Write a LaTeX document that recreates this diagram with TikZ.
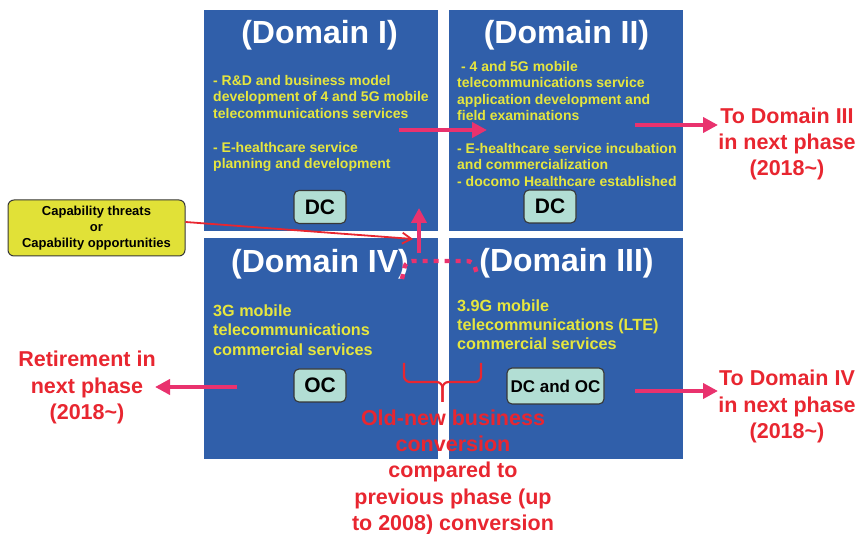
\documentclass[tikz,border=0pt]{standalone}
\usepackage{fontspec}
\setmainfont{Liberation Sans}
\usetikzlibrary{arrows.meta}

\definecolor{domblue}{RGB}{48,95,170}
\definecolor{txtyellow}{RGB}{230,230,62}
\definecolor{arrowpink}{RGB}{233,50,110}
\definecolor{labelred}{RGB}{232,38,48}
\definecolor{tagfill}{RGB}{178,222,212}
\definecolor{capfill}{RGB}{225,225,55}
\definecolor{edgegray}{RGB}{55,55,55}

\newcommand\setfs[2]{\fontsize{#1}{#2}\selectfont\bfseries}

\begin{document}
\begin{tikzpicture}[x=1pt,y=-1pt,
  domainbox/.style={fill=domblue, draw=none, inner sep=0pt, outer sep=0pt,
    anchor=north west, minimum width=234pt, minimum height=221pt},
  domtitle/.style={text=white, anchor=base, inner sep=0pt, font=\setfs{32}{35}},
  % multi-line text nodes are placed by the baseline of their last line
  bodysmall/.style={text=txtyellow, anchor=base west, align=left, inner sep=0pt,
    font=\setfs{14}{16.5}},
  bodylarge/.style={text=txtyellow, anchor=base west, align=left, inner sep=0pt,
    font=\setfs{16.2}{19.5}},
  tag/.style={fill=tagfill, draw=edgegray, line width=1.1pt, rounded corners=5pt,
    inner sep=0pt, minimum height=33pt, font=\setfs{21}{24}},
  redlabel/.style={text=labelred, anchor=base, align=center, inner sep=0pt,
    font=\setfs{21.5}{26.3}},
  bigarrow/.style={draw=arrowpink, line width=4.6pt,
    -{Triangle[length=15pt,width=15pt]}},
  thinarrow/.style={draw=labelred, line width=1.8pt,
    -{Straight Barb[length=9pt,width=11pt,line width=1.8pt]}},
  dotline/.style={draw=arrowpink, line width=4.4pt, dash pattern=on 5pt off 6pt,
    rounded corners=6pt},
  bracket/.style={draw=labelred, line width=2.2pt, rounded corners=6pt}]

\useasboundingbox (0,0) rectangle (860,534);

% the four domain quadrants
\node[domainbox] (d1) at (204,10)  {};
\node[domainbox] (d2) at (449,10)  {};
\node[domainbox] (d4) at (204,238) {};
\node[domainbox] (d3) at (449,238) {};

% quadrant titles
\node[domtitle] (t1) at (319.5,43.5)  {(Domain I)};
\node[domtitle] (t2) at (566.5,43.5)  {(Domain II)};
\node[domtitle] (t4) at (320,272.5)   {(Domain IV)};
\node[domtitle] (t3) at (566.5,271.5) {(Domain III)};

% Domain I contents
\node[bodysmall] (d1a) at (213,118.5)
  {- R\&D and business model\\development of 4 and 5G mobile\\telecommunications services};
\node[bodysmall] (d1b) at (213,169)
  {- E-healthcare service\\planning and development};
\node[tag, minimum width=52pt] (dc1) at (320,207) {DC};

% Domain II contents
\node[bodysmall] (d2a) at (457,121)
  {\hspace*{4pt}- 4 and 5G mobile\\telecommunications service\\application development and\\field examinations};
\node[bodysmall] (d2b) at (457,186.5)
  {- E-healthcare service incubation\\and commercialization\\- docomo Healthcare established};
\node[tag, minimum width=52pt] (dc2) at (550,206.5) {DC};

% Domain IV contents
\node[bodylarge] (d4a) at (213,355.5)
  {3G mobile\\telecommunications\\commercial services};
\node[tag, minimum width=52pt] (oc4) at (320,385.5) {OC};

% Domain III contents
\node[bodylarge, font=\setfs{16.2}{19}] (d3a) at (457,349.5)
  {3.9G mobile\\telecommunications (LTE)\\commercial services};
\node[tag, minimum width=97pt, minimum height=36pt, font=\setfs{17}{20}] (dcoc3) at (555.5,386) {DC and OC};

% capability trigger box
\node[fill=capfill, draw=edgegray, line width=1pt, rounded corners=6pt,
  minimum width=177pt, minimum height=56pt, inner sep=0pt, align=center,
  font=\setfs{13}{16}] (cap) at (96.5,228)
  {Capability threats\\or\\Capability opportunities};

% outcome labels
\node[redlabel] (lab2) at (787,176) {To Domain III\\in next phase\\(2018\textasciitilde)};
\node[redlabel] (lab3) at (787,438.5) {To Domain IV\\in next phase\\(2018\textasciitilde)};
\node[redlabel] (lab4) at (87,419.5)  {Retirement in\\next phase\\(2018\textasciitilde)};
\node[redlabel] (labc) at (453,530.5)
  {Old-new business\\conversion\\compared to\\previous phase (up\\to 2008) conversion};

% arrow end points
\coordinate (a12s) at (399,130);
\coordinate (a12e) at (487,130);
\coordinate (a2s)  at (635,125);
\coordinate (a2e)  at (718,125);
\coordinate (a3s)  at (635,391);
\coordinate (a3e)  at (718,391);
\coordinate (a4s)  at (237,387);
\coordinate (a4e)  at (155,387);
\coordinate (aups) at (419,253);
\coordinate (aupe) at (419,208);
\coordinate (capend) at (413,239);
\coordinate (dotA) at (402,279);
\coordinate (dotB) at (478,277);
\coordinate (brL)  at (404,363);
\coordinate (brR)  at (481,363);
\coordinate (brT)  at (442.5,402);

% transitions
\draw[thinarrow] ([yshift=6pt]cap.east) -- (capend);
\draw[bigarrow] (a12s) -- (a12e);
\draw[bigarrow] (a2s) -- (a2e);
\draw[bigarrow] (a3s) -- (a3e);
\draw[bigarrow] (a4s) -- (a4e);
\draw[bigarrow] (aups) -- (aupe);
\draw[dotline] (dotA) -- (406,261) -- (473,261) -- (dotB);

% bracket joining Domains IV and III
\draw[bracket] (brL) -- (brL |- 0,382) -- (brT |- 0,382) -- (brT);
\draw[bracket] (brR) -- (brR |- 0,382) -- (brT |- 0,382) -- (brT);

\end{tikzpicture}
\end{document}
